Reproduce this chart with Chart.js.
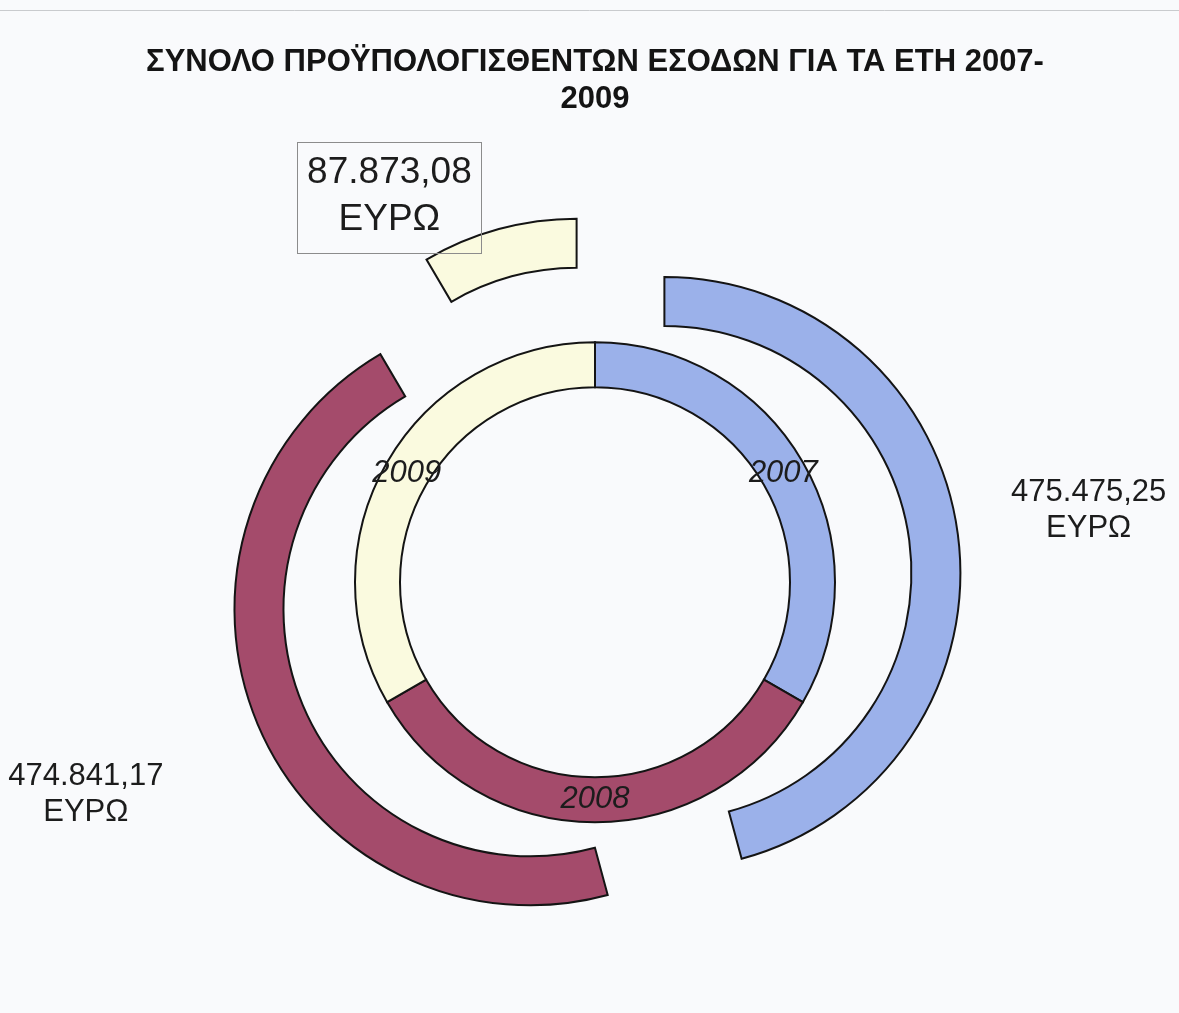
<!DOCTYPE html>
<html>
<head>
<meta charset="utf-8">
<script src="https://cdn.jsdelivr.net/npm/chart.js@4/dist/chart.umd.min.js"></script>
<style>
  body { margin: 0; background: #f9fafc; }
  #wrap { width: 1179px; height: 1013px; position: relative; }
</style>
</head>
<body>
<div id="wrap"><canvas id="pie"></canvas></div>
<script>
// data
const years = ['2007', '2008', '2009'];
const budgetTotals = [475475.25, 474841.17, 87873.08];
const yearRing = [1, 1, 1];
const sliceColors = ['#9bb1ea', '#a44b6b', '#fafadf'];
const titleLines = ['ΣΥΝΟΛΟ ΠΡΟΫΠΟΛΟΓΙΣΘΕΝΤΩΝ ΕΣΟΔΩΝ ΓΙΑ ΤΑ ΕΤΗ 2007-', '2009'];
const currency = 'ΕΥΡΩ';

const EXPLODE = 70;

function euro(v) {
  const parts = v.toFixed(2).split('.');
  return parts[0].replace(/\B(?=(\d{3})+(?!\d))/g, '.') + ',' + parts[1];
}

const pageBackground = {
  id: 'pageBackground',
  beforeDraw(chart) {
    const ctx = chart.ctx;
    ctx.save();
    ctx.fillStyle = '#f9fafc';
    ctx.fillRect(0, 0, chart.width, chart.height);
    ctx.strokeStyle = '#c9cbce';
    ctx.lineWidth = 1;
    ctx.beginPath();
    ctx.moveTo(0, 10.5);
    ctx.lineTo(chart.width, 10.5);
    ctx.stroke();
    ctx.restore();
  }
};

// outer ring is drawn pulled apart (exploded) like the original
const explodeOuter = {
  id: 'explodeOuter',
  beforeDatasetDraw(chart, args) {
    if (args.index !== 0) return;
    const ctx = chart.ctx;
    args.meta.data.forEach(arc => {
      const mid = (arc.startAngle + arc.endAngle) / 2;
      ctx.save();
      ctx.translate(Math.cos(mid) * EXPLODE, Math.sin(mid) * EXPLODE);
      arc.draw(ctx);
      ctx.restore();
    });
    return false;
  }
};

const ringLabels = {
  id: 'ringLabels',
  afterDatasetsDraw(chart) {
    const ctx = chart.ctx;
    ctx.save();
    ctx.textAlign = 'center';
    ctx.textBaseline = 'middle';
    ctx.fillStyle = '#1c1c1c';

    // years inside the inner ring
    ctx.font = 'italic 31px "Liberation Sans", Arial, sans-serif';
    chart.getDatasetMeta(2).data.forEach((arc, i) => {
      const p = arc.tooltipPosition();
      ctx.fillText(years[i], p.x, p.y);
    });

    // amounts outside the exploded ring
    const dist = [498, 548, 436];
    const nudge = [[0, -6], [-4, 0], [-91, 35]];
    chart.getDatasetMeta(0).data.forEach((arc, i) => {
      const mid = (arc.startAngle + arc.endAngle) / 2;
      const x = arc.x + Math.cos(mid) * dist[i] + nudge[i][0];
      const y = arc.y + Math.sin(mid) * dist[i] + nudge[i][1];
      const boxed = i === 2;
      const size = boxed ? 37 : 31;
      const gap = boxed ? 47 : 36;
      ctx.font = size + 'px "Liberation Sans", Arial, sans-serif';
      ctx.fillText(euro(budgetTotals[i]), x, y - gap / 2);
      ctx.fillText(currency, x, y + gap / 2);
      if (boxed) {
        ctx.strokeStyle = '#8c8c8c';
        ctx.lineWidth = 1;
        ctx.strokeRect(Math.round(x - 92) + 0.5, Math.round(y - 55) + 0.5, 184, 111);
      }
    });
    ctx.restore();
  }
};

const ctx = document.getElementById('pie').getContext('2d');
const chart = new Chart(ctx, {
  type: 'doughnut',
  data: {
    labels: years,
    datasets: [
      {
        label: 'Σύνολο εσόδων',
        data: budgetTotals,
        backgroundColor: sliceColors,
        borderColor: '#141414',
        borderWidth: 2,
        borderJoinStyle: 'miter',
        weight: 49
      },
      {
        label: 'gap',
        data: [1],
        backgroundColor: 'rgba(0,0,0,0)',
        borderWidth: 0,
        weight: 7
      },
      {
        label: 'Έτη',
        data: yearRing,
        backgroundColor: sliceColors,
        borderColor: '#141414',
        borderWidth: 2,
        borderJoinStyle: 'miter',
        weight: 45
      }
    ]
  },
  options: {
    responsive: true,
    maintainAspectRatio: false,
    animation: false,
    events: [],
    radius: 296,
    cutout: '65.88%',
    layout: { padding: { left: 11, right: 0, top: 0, bottom: 0 } },
    plugins: {
      legend: { display: false },
      tooltip: { enabled: false },
      title: {
        display: true,
        text: titleLines,
        color: '#141414',
        font: { family: '"Liberation Sans", Arial, sans-serif', size: 31, weight: 'bold', lineHeight: 1.2 },
        padding: { top: 44, bottom: 33 }
      }
    }
  },
  plugins: [pageBackground, explodeOuter, ringLabels]
});
</script>
</body>
</html>
